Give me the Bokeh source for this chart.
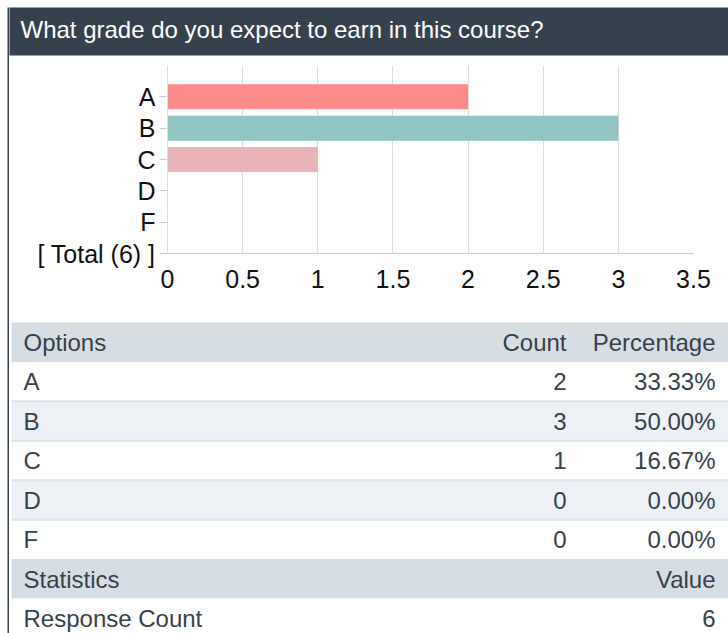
from bokeh.plotting import figure
from bokeh.layouts import row, column
from bokeh.models import Range1d, FixedTicker, CustomJSTickFormatter, ColumnDataSource
from bokeh.core.properties import value
from bokeh.embed import file_html
from bokeh.resources import INLINE

# ---------------- data ----------------
title_text = "What grade do you expect to earn in this course?"
options = ["A", "B", "C", "D", "F"]
counts = [2, 3, 1, 0, 0]
bar_colors = ["#ff8a8a", "#93c5c5", "#e9b5b9", "#f6c98a", "#b7a6d6"]
x_ticks = [0, 0.5, 1, 1.5, 2, 2.5, 3, 3.5]
table_headers = ["Options", "Count", "Percentage"]
stat_headers = ["Statistics", "Value"]
stat_names = ["Response Count"]

total = sum(counts)
percentages = [f"{c / total * 100:.2f}%" for c in counts]
stat_values = [str(total)]

FONT = value("Liberation Sans")
DARK = "#36414e"
TEXT = "#37414b"
BW = 9          # width of the left strip that carries the dark border line
W = 728 - BW    # width of the main column
H = 633


def pixel_fig(width, height):
    f = figure(width=width, height=height, x_range=Range1d(0, width),
               y_range=Range1d(height, 0), x_axis_type=None, y_axis_type=None,
               toolbar_location=None, output_backend="svg", min_border=0,
               outline_line_color=None, background_fill_color="white",
               border_fill_color="white")
    f.frame_align = False
    return f


# ---------------- left border ----------------
border = pixel_fig(BW, H)
border.quad(left=7, right=9, top=7, bottom=H + 5, fill_color=DARK, line_color=None)

# ---------------- title ----------------
TTL_H = 60
tfig = pixel_fig(W, TTL_H)
tfig.quad(left=-5, right=W + 10, top=7, bottom=55, fill_color=DARK, line_color=None)
tfig.text(x=[11], y=[29], text=[title_text], text_color="white",
          text_font=FONT, text_font_size=value("24px"), text_baseline="alphabetic",
          text_align="left")

# ---------------- bar chart ----------------
n = len(options)
ypos = [n - i for i in range(n)]
src = ColumnDataSource(dict(y=ypos, count=counts, color=bar_colors))

chart = figure(width=W, height=240, x_range=Range1d(x_ticks[0], x_ticks[-1]),
               y_range=Range1d(0, n + 1), toolbar_location=None, output_backend="svg",
               min_border_left=158, min_border_right=W - 684, min_border_top=5,
               min_border_bottom=47, outline_line_color=None,
               background_fill_color="white", border_fill_color="white")
chart.frame_align = False
chart.hbar(y="y", left=0, right="count", height=0.8, fill_color="color",
           line_color=None, source=src)

xa = chart.xaxis[0]
xa.ticker = FixedTicker(ticks=x_ticks, minor_ticks=[])
xa.formatter = CustomJSTickFormatter(code="return String(tick);")
xa.major_tick_out = 0
xa.major_tick_in = 0
xa.minor_tick_line_color = None
xa.axis_line_color = "#cccccc"
xa.major_label_standoff = 16
xa.major_label_text_font = "Liberation Sans"
xa.major_label_text_font_size = "25px"
xa.major_label_text_color = "#111111"

ya = chart.yaxis[0]
ya.ticker = FixedTicker(ticks=[0] + ypos, minor_ticks=[])
overrides = {p: o for p, o in zip(ypos, options)}
overrides[0] = f"[ Total ({total}) ]"
ya.major_label_overrides = overrides
ya.major_tick_out = 8
ya.major_tick_in = 0
ya.major_tick_line_color = "#c8c8c8"
ya.minor_tick_line_color = None
ya.axis_line_color = "#dddddd"
ya.major_label_standoff = 4
ya.major_label_text_font = "Liberation Sans"
ya.major_label_text_font_size = "25px"
ya.major_label_text_color = "#111111"

chart.xgrid.ticker = FixedTicker(ticks=x_ticks)
chart.xgrid.grid_line_color = "#dddddd"
chart.ygrid.visible = False

# ---------------- table ----------------
TH = H - TTL_H - 240
table = pixel_fig(W, TH)

top0 = 22.0
pitch = 39.43
n_rows = 1 + n + 1 + len(stat_names)
tops = [top0 + i * pitch for i in range(n_rows)]
HEAD = "#d7dee3"
STRIPE = "#edf1f5"
bg = []
for i in range(n_rows):
    if i == 0 or i == n + 1:
        bg.append(HEAD)
    elif 1 <= i <= n and i % 2 == 0:
        bg.append(STRIPE)
    else:
        bg.append("white")
table.quad(left=2, right=W + 10, top=tops, bottom=[t + pitch for t in tops],
           fill_color=bg, line_color=None)
# separators between data rows
sep_y = [tops[i] for i in range(2, n + 1)]
table.quad(left=2, right=W + 10, top=[y - 1 for y in sep_y], bottom=[y + 1 for y in sep_y],
           fill_color="#dde3e8", line_color=None)

left_x, count_x, pct_x = 14, 557, 706
bl = 20

lt, lx, ly, rt, rx, ry = [], [], [], [], [], []
lt.append(table_headers[0]); lx.append(left_x); ly.append(tops[0] + bl)
rt += [table_headers[1], table_headers[2]]; rx += [count_x, pct_x]; ry += [tops[0] + bl] * 2
for i, (o, c, pc) in enumerate(zip(options, counts, percentages)):
    t = tops[i + 1] + bl
    lt.append(o); lx.append(left_x); ly.append(t)
    rt += [str(c), pc]; rx += [count_x, pct_x]; ry += [t, t]
t = tops[n + 1] + bl
lt.append(stat_headers[0]); lx.append(left_x); ly.append(t)
rt.append(stat_headers[1]); rx.append(pct_x); ry.append(t)
for j, (nm, v) in enumerate(zip(stat_names, stat_values)):
    t = tops[n + 2 + j] + bl
    lt.append(nm); lx.append(left_x); ly.append(t)
    rt.append(v); rx.append(pct_x); ry.append(t)

table.text(x=lx, y=ly, text=lt, text_color=TEXT, text_font=FONT,
           text_font_size=value("24px"), text_baseline="alphabetic", text_align="left")
table.text(x=rx, y=ry, text=rt, text_color=TEXT, text_font=FONT,
           text_font_size=value("24px"), text_baseline="alphabetic", text_align="right")

layout = row(border, column(tfig, chart, table))

open("out.html", "w").write(file_html(layout, INLINE))
